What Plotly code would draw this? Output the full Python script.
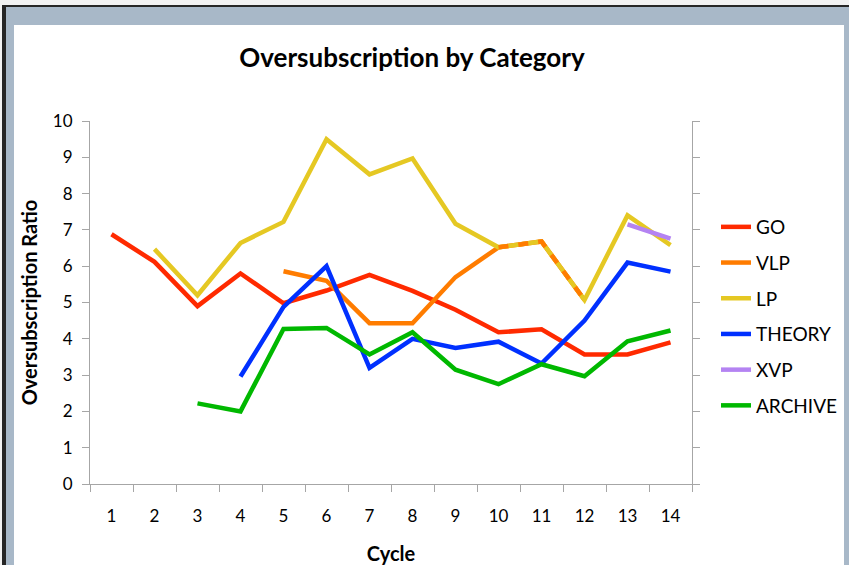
import plotly.graph_objs as go

cycles = [str(i) for i in range(1, 15)]

go_ratio = [6.88, 6.12, 4.9, 5.8, 4.98, 5.33, 5.76, 5.32, 4.8, 4.18, 4.26, 3.57, 3.57, 3.9]
vlp_ratio = [None, None, None, None, 5.86, 5.6, 4.43, 4.43, 5.7, 6.52, 6.68, 5.07, None, None]
lp_ratio = [None, 6.47, 5.2, 6.64, 7.22, 9.5, 8.53, 8.97, 7.17, 6.52, 6.68, 5.07, 7.4, 6.58]
theory_ratio = [None, None, None, 2.96, 4.88, 6.0, 3.2, 4.0, 3.75, 3.92, 3.32, 4.5, 6.1, 5.85]
xvp_ratio = [None] * 12 + [7.15, 6.76]
archive_ratio = [None, None, 2.22, 2.0, 4.27, 4.3, 3.57, 4.18, 3.15, 2.75, 3.3, 2.97, 3.93, 4.23]

colors = {
    "GO": "#ff2a00",
    "VLP": "#ff7c00",
    "LP": "#e5c823",
    "THEORY": "#0030ff",
    "XVP": "#b483f2",
    "ARCHIVE": "#00b800",
}

FONT = "Lato"

# plot area in pixels
W, H = 849, 565
L, R, T, B = 90, 692, 121, 484


def px_x(px):
    return (px - L) / (R - L)


def px_y(py):
    return (B - py) / (B - T)


series = [
    ("GO", go_ratio),
    ("VLP", vlp_ratio),
    ("LP", lp_ratio),
    ("THEORY", theory_ratio),
    ("XVP", xvp_ratio),
    ("ARCHIVE", archive_ratio),
]

traces = []
for name, vals in series:
    traces.append(go.Scatter(
        x=cycles, y=vals, name=name, mode="lines",
        line=dict(color=colors[name], width=4.5),
        legendgroup=name,
        hoverinfo="x+y+name",
    ))

# VLP and LP coincide on cycles 10-12: show the orange series dashed on top
overlap = [v if i >= 9 else None for i, v in enumerate(vlp_ratio)]
traces.insert(3, go.Scatter(
    x=cycles, y=overlap, name="VLP", mode="lines",
    line=dict(color=colors["VLP"], width=4.5, dash="10px,10px"),
    showlegend=False, legendgroup="VLP",
))

axis_color = "#a6a6a6"

layout = go.Layout(
    width=W, height=H,
    margin=dict(l=L, r=W - R, t=T, b=H - B, autoexpand=False),
    paper_bgcolor="#a8b8c8",
    plot_bgcolor="white",
    title=dict(
        text="<b>Oversubscription by Category</b>",
        x=px_x(412), xref="paper", xanchor="center",
        y=1 - 58 / H, yanchor="middle",
        font=dict(family=FONT, size=26, color="black"),
    ),
    xaxis=dict(
        type="category",
        range=[-0.5, 13.5],
        automargin=False,
        tickson="boundaries",
        ticks="outside", ticklen=7, tickcolor=axis_color,
        showline=True, linecolor=axis_color, linewidth=1,
        showgrid=False, zeroline=False,
        tickfont=dict(family=FONT, size=17, color="black"),
        ticklabelstandoff=17,
        title=dict(text="<b>Cycle</b>", standoff=23,
                   font=dict(family=FONT, size=20, color="black")),
    ),
    yaxis=dict(
        range=[0, 10], dtick=1,
        automargin=False,
        ticks="outside", ticklen=7, tickcolor=axis_color,
        showline=True, linecolor=axis_color, linewidth=1,
        mirror="ticks",
        showgrid=False, zeroline=False,
        tickfont=dict(family=FONT, size=17, color="black"),
        ticklabelstandoff=6,
        title=dict(text="<b>Oversubscription Ratio</b>", standoff=9,
                   font=dict(family=FONT, size=20, color="black")),
    ),
    legend=dict(
        x=px_x(843), y=px_y(208), xanchor="right", yanchor="top",
        bgcolor="rgba(0,0,0,0)",
        font=dict(family=FONT, size=19, color="black"),
        traceorder="grouped", tracegroupgap=8,
        itemwidth=30,
    ),
    shapes=[
        dict(type="rect", xref="paper", yref="paper", layer="below",
             x0=px_x(14), x1=px_x(844), y0=px_y(W), y1=px_y(25),
             fillcolor="white", line=dict(width=0)),
        dict(type="rect", xref="paper", yref="paper", layer="below",
             x0=px_x(2), x1=px_x(6), y0=px_y(W), y1=px_y(5),
             fillcolor="#262626", line=dict(width=0)),
        dict(type="rect", xref="paper", yref="paper", layer="below",
             x0=px_x(2), x1=px_x(W), y0=px_y(7), y1=px_y(5),
             fillcolor="#262626", line=dict(width=0)),
        dict(type="rect", xref="paper", yref="paper", layer="below",
             x0=px_x(-5), x1=px_x(W + 5), y0=px_y(5), y1=px_y(-5),
             fillcolor="#f2f2f2", line=dict(width=0)),
        dict(type="rect", xref="paper", yref="paper", layer="below",
             x0=px_x(-5), x1=px_x(2), y0=px_y(W), y1=px_y(-5),
             fillcolor="#f2f2f2", line=dict(width=0)),
    ],
)

fig = go.Figure(data=traces, layout=layout)
fig.write_html("out.html", config={"displayModeBar": False},
               post_script="document.body.style.margin='0px';")
